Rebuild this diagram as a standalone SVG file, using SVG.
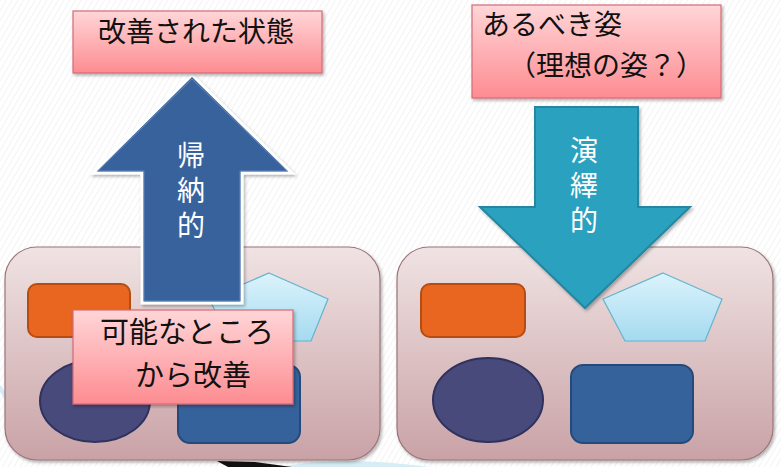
<svg xmlns="http://www.w3.org/2000/svg" width="781" height="467" viewBox="0 0 781 467">
<defs>
  <pattern id="stripes" width="5" height="5" patternUnits="userSpaceOnUse" patternTransform="rotate(30)">
    <rect width="5" height="5" fill="#ffffff"/>
    <line x1="0" y1="0" x2="0" y2="5" stroke="#f0f0f0" stroke-width="1.5"/>
  </pattern>
  <linearGradient id="gCont" x1="0" y1="0" x2="0" y2="1">
    <stop offset="0" stop-color="#f0e3e3"/>
    <stop offset="1" stop-color="#c9a2a6"/>
  </linearGradient>
  <linearGradient id="gPink" x1="0" y1="0" x2="0" y2="1">
    <stop offset="0" stop-color="#ffd6d8"/>
    <stop offset="1" stop-color="#fd8c91"/>
  </linearGradient>
  <linearGradient id="gPent" x1="0" y1="0" x2="0" y2="1">
    <stop offset="0" stop-color="#dcf3fc"/>
    <stop offset="1" stop-color="#a5daf0"/>
  </linearGradient>
  <filter id="sh" x="-10%" y="-10%" width="125%" height="130%">
    <feDropShadow dx="1.5" dy="2" stdDeviation="1.5" flood-color="#000" flood-opacity="0.3"/>
  </filter>
  <style>
    .cont { fill: url(#gCont); stroke: #9b747a; stroke-width: 1.2; }
    .orange { fill: #e8661f; stroke: #b54c12; stroke-width: 2; }
    .pent { fill: url(#gPent); stroke: #62b4cc; stroke-width: 1.2; }
    .ell { fill: #474a7a; stroke: #30325e; stroke-width: 2; }
    .blue { fill: #36629c; stroke: #244a7b; stroke-width: 2; }
    .pink { fill: url(#gPink); stroke: #d66a76; stroke-width: 1.2; }
    .lbl { font-family: "Noto Sans CJK JP", "Noto Sans", sans-serif; fill: #111111; }
    .arrtxt { font-family: "Noto Sans CJK JP", "Noto Sans", sans-serif; fill: #ffffff; font-size: 28px; writing-mode: vertical-rl; letter-spacing: 7px; }
  </style>
</defs>

<rect width="781" height="467" fill="url(#stripes)"/>

<!-- bottom decorations -->
<g id="decor">
  <path d="M 0 385 Q 10 395 14 420 Q 6 400 0 392 Z" fill="#d4ecf4"/>
  <path d="M 280 467 Q 340 455 430 467 Z" fill="#d6edf5"/>
  <polygon points="217,461 255,462 292,467 228,467" fill="#111111"/>
</g>

<!-- left container -->
<g id="container-left">
  <rect class="cont" x="5" y="247" width="375" height="213" rx="32" filter="url(#sh)"/>
  <rect class="orange" x="28" y="284" width="102" height="53" rx="9"/>
  <polygon class="pent" points="269,273 328,299 311,341 231,341 209,299"/>
  <ellipse class="ell" cx="95" cy="401" rx="55" ry="41"/>
  <rect class="blue" x="178" y="365" width="122" height="78" rx="12"/>
</g>

<!-- right container -->
<g id="container-right">
  <rect class="cont" x="397" y="247" width="376" height="213" rx="32" filter="url(#sh)"/>
  <rect class="orange" x="421" y="284" width="104" height="53" rx="9"/>
  <polygon class="pent" points="663,273 722,299 705,341 625,341 603,299"/>
  <ellipse class="ell" cx="488" cy="400" rx="55" ry="42"/>
  <rect class="blue" x="571" y="365" width="122" height="78" rx="12"/>
</g>

<!-- arrows -->
<g id="connectors">
  <g id="arrow-up">
    <polygon points="192,75 292,173 242,173 242,303 142,303 142,173 93,173" fill="#37629b" stroke="#ffffff" stroke-width="3" stroke-linejoin="miter" filter="url(#sh)"/>
    <polygon points="192,79 287,171 240,171 240,301 144,301 144,171 98,171" fill="none" stroke="#6d8fbf" stroke-width="0.8"/>
    <text class="arrtxt" x="191" y="141">帰納的</text>
  </g>
  <g id="arrow-down">
    <polygon points="535,107 638,107 638,207 690,207 585,308 480,207 535,207" fill="#2ca1be" stroke="#25869f" stroke-width="2" filter="url(#sh)"/>
    <text class="arrtxt" x="584" y="136">演繹的</text>
  </g>
</g>

<!-- label boxes -->
<g id="box-improved">
  <rect class="pink" x="73" y="11" width="249" height="62" filter="url(#sh)"/>
  <text class="lbl" x="98" y="42" font-size="28">改善された状態</text>
</g>

<g id="box-ideal">
  <rect class="pink" x="472" y="5" width="249" height="93" filter="url(#sh)"/>
  <text class="lbl" font-size="28"><tspan x="482" y="35">あるべき姿</tspan><tspan x="508" y="76">（理想の姿？）</tspan></text>
</g>

<g id="box-possible">
  <rect class="pink" x="73" y="310" width="220" height="94" filter="url(#sh)"/>
  <text class="lbl" font-size="29"><tspan x="100" y="343">可能なところ</tspan><tspan x="135" y="386">から改善</tspan></text>
</g>
</svg>
